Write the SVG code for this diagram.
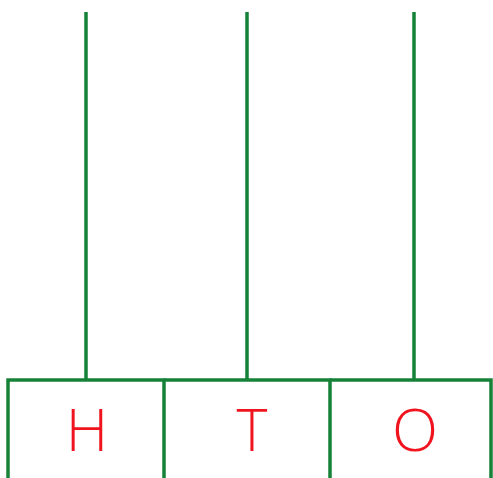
<svg xmlns="http://www.w3.org/2000/svg" width="493" height="478" viewBox="0 0 493 478">
<style>
.g{stroke:#158238;stroke-width:3.5;fill:none}
.t{fill:#f0141e;font-family:"Open Sans","Liberation Sans",sans-serif;font-size:59px;font-weight:300;text-anchor:middle}
</style>
<rect width="493" height="478" fill="#fff"/>
<g id="connectors">
<line class="g" x1="86" y1="12" x2="86" y2="380"/>
<line class="g" x1="247" y1="12" x2="247" y2="380"/>
<line class="g" x1="414" y1="12" x2="414" y2="380"/>
</g>
<g id="node-H">
<path class="g" d="M8,480 V380 H164 V480"/>
<text class="t" x="87" y="451">H</text>
</g>
<g id="node-T">
<path class="g" d="M164,380 H330 V480"/>
<text class="t" x="252" y="451">T</text>
</g>
<g id="node-O">
<path class="g" d="M330,380 H491 V480"/>
<text class="t" x="415" y="451" textLength="46" lengthAdjust="spacingAndGlyphs">O</text>
</g>
</svg>
